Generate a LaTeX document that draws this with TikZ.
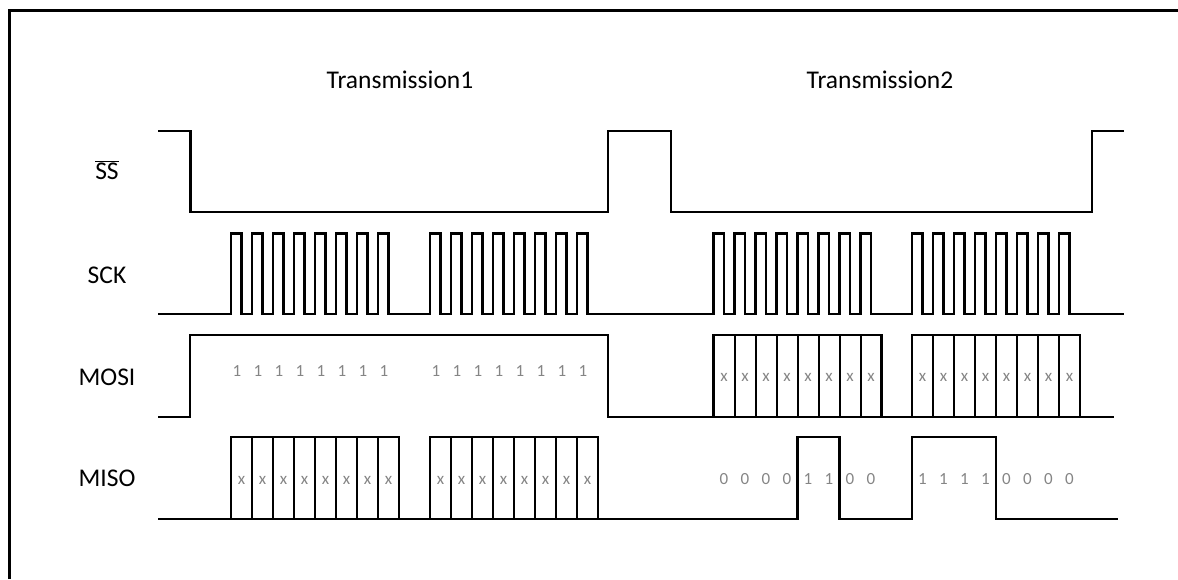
\documentclass[tikz,border=0pt]{standalone}
\usepackage{fontspec}
\setmainfont{Carlito}
\definecolor{bitGris}{HTML}{858585}

\tikzset{
  onda/.style={line width=2.4pt, line join=miter},
  celda/.style={line width=2pt},
  etiqueta/.style={font=\fontsize{25.5}{30}\selectfont},
  bit/.style={text=bitGris, font=\fontsize{17}{19}\selectfont, inner sep=0pt}
}

\begin{document}
\begin{tikzpicture}[x=1pt, y=-1pt]
  \useasboundingbox (0,0) rectangle (1178,579);
  \draw[line width=3pt] (9,579) -- (9,10) -- (1178,10);

  % titulos y nombres de las senales
  \node[etiqueta] (tituloA) at (400,80) {Transmission1};
  \node[etiqueta] (tituloB) at (880,80) {Transmission2};
  \node[etiqueta] (lblSS) at (107,170) {$\overline{\mbox{SS}}$};
  \node[etiqueta] (lblSCK) at (107,275) {SCK};
  \node[etiqueta] (lblMOSI) at (107,377) {MOSI};
  \node[etiqueta] (lblMISO) at (107,478) {MISO};

  % SS
  \draw[onda] (158,131) -- (190.5,131) -- (190.5,212) -- (608,212) -- (608,131)
    -- (671,131) -- (671,212) -- (1092,212) -- (1092,131) -- (1124,131);

  % SCK
  \draw[onda] (158,314)
    \foreach \g in {231,430,713.5,912}{
      -- (\g,314)
      \foreach \k in {0,...,7}{ -- ++(0,-80.5) -- ++(10.5,0) -- ++(0,80.5) -- ++(10.5,0) }
    } -- (1124,314);

  % MOSI
  \draw[onda] (158,417) -- (190,417) -- (190,335) -- (608,335) -- (608,417) -- (1114,417);
  \foreach \g/\n in {231/a,430/b}
    \foreach \k in {0,...,7}
      \node[bit] (uno\n\k) at (\g+6+21*\k,371) {1};
  \foreach \g/\n in {713.5/c,912/d}{
    \draw[onda] (\g,417) rectangle ++(168,-82);
    \foreach \k in {1,...,7} \draw[celda] (\g+21*\k,335) -- (\g+21*\k,417);
    \foreach \k in {0,...,7} \node[bit] (mosi\n\k) at (\g+10.5+21*\k,377) {x};
  }

  % MISO
  \draw[onda] (158,519) -- (797.5,519) -- (797.5,437) -- (839.5,437) -- (839.5,519)
    -- (912,519) -- (912,437) -- (996,437) -- (996,519) -- (1118,519);
  \foreach \g/\n in {231/a,430/b}{
    \draw[onda] (\g,519) rectangle ++(168,-82);
    \foreach \k in {1,...,7} \draw[celda] (\g+21*\k,437) -- (\g+21*\k,519);
    \foreach \k in {0,...,7} \node[bit] (miso\n\k) at (\g+10.5+21*\k,480) {x};
  }
  \foreach \b [count=\k from 0] in {0,0,0,0,1,1,0,0}
    \node[bit] (bitc\k) at (724+21*\k,479) {\b};
  \foreach \b [count=\k from 0] in {1,1,1,1,0,0,0,0}
    \node[bit] (bitd\k) at (922.5+21*\k,479) {\b};
\end{tikzpicture}
\end{document}
